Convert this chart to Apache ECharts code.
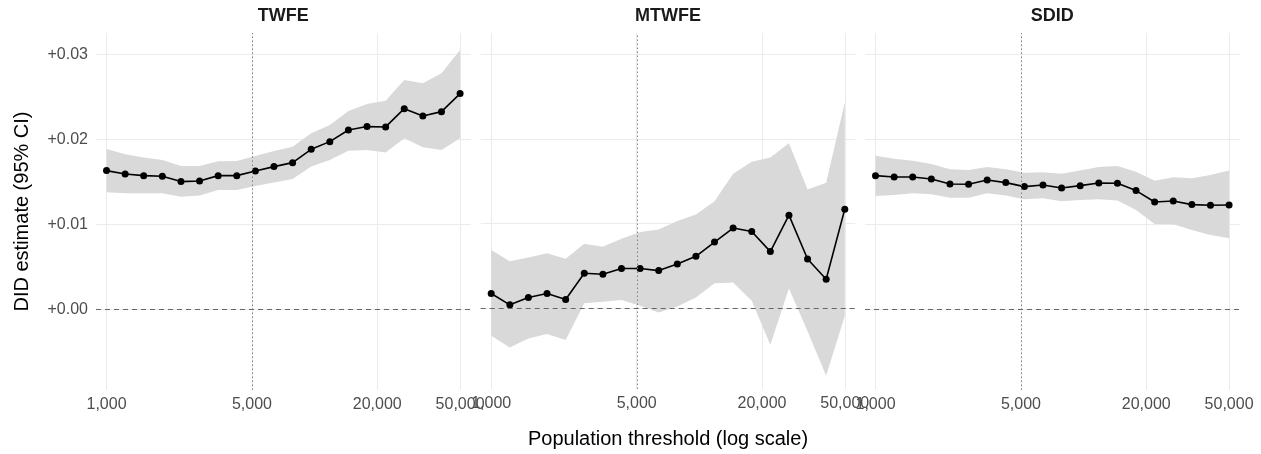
<!DOCTYPE html>
<html><head><meta charset="utf-8">
<script src="https://cdn.jsdelivr.net/npm/echarts@6/dist/echarts.min.js"></script>
<style>html,body{margin:0;padding:0;background:#fff}#c{width:1261px;height:454px}</style>
</head><body><div id="c"></div>
<script>
const panels = ['TWFE', 'MTWFE', 'SDID'];
const thresholds = [1000, 1229, 1509, 1855, 2279, 2800, 3440, 4226, 5192, 6379,
                    7837, 9629, 11830, 14534, 17857, 21940, 26955, 33118, 40689, 50000];
const xTicks = [1000, 5000, 20000, 50000];
const yTicks = [0, 0.01, 0.02, 0.03];
const cutoff = 5000;

const twfeEst = [0.01631, 0.01592, 0.01572, 0.01565, 0.01502, 0.01509, 0.01572, 0.01572, 0.01627, 0.01678,
                 0.01725, 0.01882, 0.01972, 0.02109, 0.02149, 0.02145, 0.02360, 0.02274, 0.02325, 0.02537];
const twfeHi  = [0.01886, 0.01823, 0.01784, 0.01756, 0.01686, 0.01686, 0.01741, 0.01745, 0.01804, 0.01862,
                 0.01913, 0.02071, 0.02168, 0.02333, 0.02415, 0.02454, 0.02698, 0.02659, 0.02776, 0.03051];
const twfeLo  = [0.01376, 0.01365, 0.01365, 0.01365, 0.01325, 0.01337, 0.01404, 0.01404, 0.01451, 0.01490,
                 0.01533, 0.01678, 0.01756, 0.01866, 0.01874, 0.01843, 0.02012, 0.01906, 0.01874, 0.02012];

const mtwfeEst = [0.00176, 0.00043, 0.00129, 0.00176, 0.00106, 0.00415, 0.00404, 0.00471, 0.00471, 0.00447,
                  0.00525, 0.00615, 0.00784, 0.00949, 0.00909, 0.00671, 0.01101, 0.00584, 0.00345, 0.01172];
const mtwfeHi  = [0.00690, 0.00556, 0.00600, 0.00651, 0.00588, 0.00765, 0.00729, 0.00824, 0.00901, 0.00933,
                  0.01031, 0.01109, 0.01266, 0.01590, 0.01730, 0.01780, 0.01950, 0.01404, 0.01484, 0.02430];
const mtwfeLo  = [-0.00322, -0.00459, -0.00353, -0.00302, -0.00373, 0.00062, 0.00078, 0.00101, 0.00031, -0.00047,
                  0.00024, 0.00129, 0.00298, 0.00306, 0.00090, -0.00428, 0.00235, -0.00270, -0.00793, -0.00087];

const sdidEst = [0.01572, 0.01556, 0.01556, 0.01533, 0.01474, 0.01470, 0.01521, 0.01490, 0.01443, 0.01462,
                 0.01427, 0.01454, 0.01486, 0.01482, 0.01396, 0.01262, 0.01274, 0.01231, 0.01224, 0.01227];
const sdidHi  = [0.01807, 0.01772, 0.01748, 0.01709, 0.01647, 0.01639, 0.01674, 0.01647, 0.01607, 0.01611,
                 0.01595, 0.01631, 0.01674, 0.01686, 0.01619, 0.01513, 0.01553, 0.01541, 0.01580, 0.01631];
const sdidLo  = [0.01333, 0.01345, 0.01365, 0.01353, 0.01313, 0.01313, 0.01365, 0.01337, 0.01294, 0.01306,
                 0.01271, 0.01286, 0.01294, 0.01278, 0.01168, 0.01004, 0.01000, 0.00933, 0.00874, 0.00835];

const est = [twfeEst, mtwfeEst, sdidEst];
const lo = [twfeLo, mtwfeLo, sdidLo];
const hi = [twfeHi, mtwfeHi, sdidHi];

const FONT = 'Liberation Sans, Arial, Helvetica, sans-serif';
const gridLefts = [96, 480.7, 865];
const gridW = 374.6;
const gridTop = 33, gridH = 357;
const xMin = Math.log10(1000) - 0.0505, xMax = Math.log10(50000) + 0.0505;
const lx = v => Math.log10(v);

const fmtX = v => Math.round(Math.pow(10, v)).toLocaleString('en-US');

const grids = [], xAxes = [], yAxes = [], series = [], graphics = [];
panels.forEach((p, k) => {
  grids.push({left: gridLefts[k], top: gridTop, width: gridW, height: gridH, containLabel: false});
  xAxes.push({
    type: 'value', gridIndex: k, min: xMin, max: xMax,
    axisLine: {show: false},
    axisTick: {show: false, customValues: xTicks.map(lx)},
    axisLabel: {show: true, customValues: xTicks.map(lx), formatter: fmtX, color: '#4d4d4d',
                fontSize: 16, fontFamily: FONT, margin: 7},
    splitLine: {show: true, lineStyle: {color: '#ebebeb', width: 1}},
    name: k === 1 ? 'Population threshold (log scale)' : '',
    nameLocation: 'middle', nameGap: 40,
    nameTextStyle: {fontSize: 20, color: '#000', fontFamily: FONT}
  });
  yAxes.push({
    type: 'value', gridIndex: k, min: -0.0095, max: 0.0325,
    axisLine: {show: false},
    axisTick: {show: false, customValues: yTicks},
    axisLabel: {show: k === 0, customValues: yTicks, formatter: v => '+' + v.toFixed(2), color: '#4d4d4d',
                fontSize: 16, fontFamily: FONT, margin: 8},
    splitLine: {show: true, lineStyle: {color: '#ebebeb', width: 1}},
    name: k === 0 ? 'DID estimate (95% CI)' : '',
    nameLocation: 'middle', nameGap: 64,
    nameTextStyle: {fontSize: 20, color: '#000', fontFamily: FONT}
  });
  const L = lo[k], H = hi[k];
  series.push({
    type: 'custom', xAxisIndex: k, yAxisIndex: k, z: 1, silent: true,
    data: thresholds.map((t, i) => [lx(t), L[i], H[i]]),
    encode: {x: 0, y: [1, 2]},
    renderItem: function (params, api) {
      if (params.dataIndex !== 0) return null;
      const pts = [];
      for (let i = 0; i < thresholds.length; i++) pts.push(api.coord([lx(thresholds[i]), H[i]]));
      for (let i = thresholds.length - 1; i >= 0; i--) pts.push(api.coord([lx(thresholds[i]), L[i]]));
      return {type: 'polygon', shape: {points: pts}, style: {fill: '#d9d9d9', stroke: null}};
    }
  });
  series.push({
    type: 'line', xAxisIndex: k, yAxisIndex: k, z: 3,
    data: thresholds.map((t, i) => [lx(t), est[k][i]]),
    symbol: 'circle', symbolSize: 7, showSymbol: true,
    lineStyle: {color: '#000', width: 1.6},
    itemStyle: {color: '#000'},
    markLine: {
      silent: true, symbol: 'none', label: {show: false}, animation: false,
      data: [
        {xAxis: lx(cutoff), lineStyle: {type: [1.5, 2.5], color: '#7f7f7f', width: 1}},
        {yAxis: 0, lineStyle: {type: [5, 4], color: '#666', width: 1}}
      ]
    }
  });
  graphics.push({
    type: 'text', x: gridLefts[k] + gridW / 2, y: 16,
    style: {text: p, align: 'center', verticalAlign: 'middle', font: 'bold 18px ' + FONT, fill: '#1a1a1a'}
  });
});

const chart = echarts.init(document.getElementById('c'), null, {renderer: 'canvas'});
chart.setOption({
  animation: false,
  backgroundColor: '#fff',
  grid: grids, xAxis: xAxes, yAxis: yAxes, series: series,
  graphic: graphics
});
</script>
</body></html>
